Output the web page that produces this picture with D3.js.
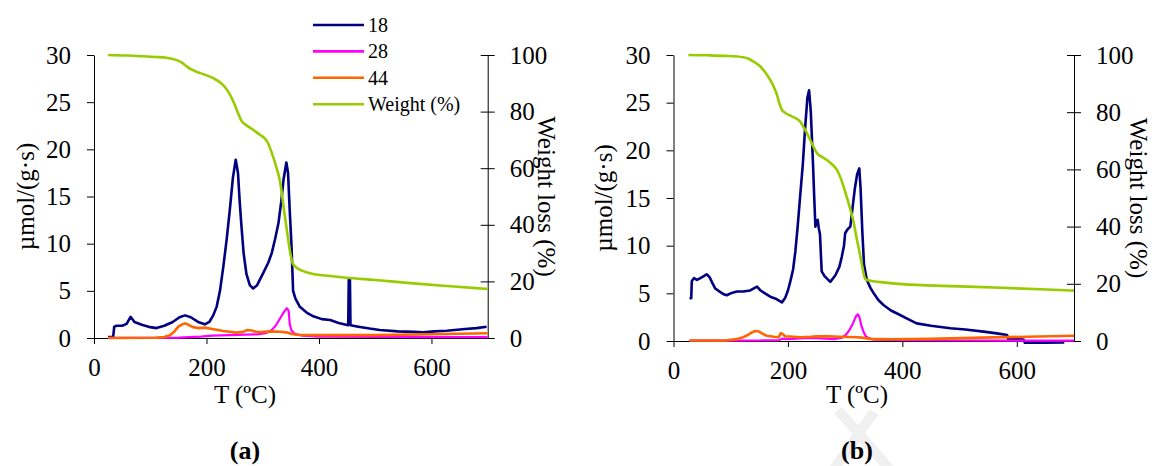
<!DOCTYPE html>
<html>
<head>
<meta charset="utf-8">
<script src="https://cdn.jsdelivr.net/npm/d3@7"></script>
<style>
  html, body { margin: 0; padding: 0; background: #fff; }
  svg { display: block; }
  svg text { font-family: "Liberation Serif", "Times New Roman", Times, "DejaVu Serif", serif; }
</style>
</head>
<body>
<svg id="chart" width="1152" height="466"></svg>
<script>
// ---- Panel (a): evolved species, [T (ºC), µmol/(g·s)] ----
const a18 = [[25,0.1],[34,0.1],[36,1.2],[40,1.3],[50,1.3],[58,1.5],[65,2.25],[72,1.7],[85,1.4],[100,1.15],[111,1.05],[125,1.3],[140,1.7],[152,2.2],[162,2.4],[172,2.2],[185,1.7],[197,1.45],[205,1.7],[212,2.4],[218,3.3],[224,5.0],[230,7.6],[236,10.5],[242,13.9],[247,17.0],[252,18.9],[256,17.5],[259,14.5],[262,12.0],[266,9.0],[271,6.8],[277,5.6],[283,5.25],[290,5.6],[301,6.9],[310,8.0],[316,9.0],[322,10.5],[328,12.2],[333,14.5],[337,16.8],[342,18.6],[345,17.5],[348,13.5],[351,10.0],[354,5.0],[358,4.2],[366,3.3],[378,2.7],[390,2.3],[405,2.0],[420,1.9],[435,1.6],[452,1.35],[453,6.3],[455,6.3],[456,1.35],[470,1.2],[490,1.0],[508,0.85],[540,0.7],[570,0.65],[585,0.6],[605,0.7],[627,0.77],[660,0.95],[680,1.05],[698,1.2]];
const a28 = [[25,0.02],[100,0.02],[150,0.05],[190,0.15],[210,0.25],[240,0.3],[270,0.35],[290,0.38],[305,0.5],[315,0.8],[323,1.3],[331,2.1],[337,2.7],[343,3.15],[346,2.9],[348,1.5],[351,0.8],[357,0.45],[370,0.25],[400,0.15],[500,0.12],[600,0.1],[700,0.1]];
const a44 = [[25,0],[110,0.02],[125,0.1],[135,0.3],[143,0.7],[150,1.2],[157,1.45],[162,1.55],[168,1.4],[176,1.15],[185,1.05],[197,1.1],[210,0.95],[230,0.75],[253,0.57],[265,0.65],[273,0.85],[280,0.8],[289,0.64],[300,0.65],[315,0.7],[331,0.67],[342,0.6],[350,0.45],[360,0.35],[400,0.3],[500,0.3],[600,0.4],[700,0.5]];
// Panel (a): weight, [T (ºC), %]
const aWeight = [[25,100],[60,99.8],[82,99.6],[110,99.3],[129,99.0],[147,98.2],[157,97.2],[165,95.9],[174,94.8],[182,94.1],[195,93.2],[212,91.8],[225,90.2],[233,88.6],[242,85.9],[250,82.5],[256,79.5],[262,76.8],[268,75.6],[283,73.6],[295,71.8],[301,71.0],[309,69.0],[316,65.5],[324,60.5],[331,55],[338,45],[344,36.5],[349,30],[353,26.5],[358,25.2],[370,23.8],[390,22.6],[420,21.9],[449,21.3],[500,20.5],[568,19.3],[640,18.2],[700,17.3]];

// ---- Panel (b) ----
const b18 = [[28,4.45],[31,4.5],[32,6.3],[36,6.6],[41,6.4],[47,6.6],[53,6.8],[58,7.0],[63,6.7],[67,6.2],[73,5.5],[80,5.2],[88,4.9],[93,4.8],[100,5.0],[111,5.2],[122,5.2],[134,5.3],[146,5.7],[152,5.3],[160,5.0],[169,4.65],[180,4.4],[189.5,4.05],[195,4.5],[200,5.3],[204,6.2],[209,7.5],[213,9.4],[217,12.0],[221.5,15.3],[226,18.5],[230,22.3],[234,25.5],[237,26.3],[240,24.0],[243.7,18.8],[246,15.0],[248,12.0],[250,12.5],[252,12.7],[254,11.8],[256,11.2],[259,7.3],[264,6.8],[274,6.2],[283,6.9],[290,7.8],[294,8.8],[298,10.0],[300,11.3],[304,11.7],[309,12.0],[313,14.0],[317,16.0],[321,17.5],[324.7,18.1],[327,16.0],[330,11.5],[333,8.0],[338,6.4],[344,5.6],[350,5.0],[358,4.3],[367,3.78],[380,3.2],[396,2.73],[410,2.3],[425,1.85],[450,1.6],[484,1.33],[510,1.2],[542,0.98],[565,0.8],[583,0.63],[585,0.2],[600,0.18],[612,0.15],[614,-0.18],[650,-0.18],[683,-0.15]];
const b28 = [[28,0.03],[100,0.03],[150,0.05],[185,0.1],[190,0.25],[200,0.2],[230,0.3],[250,0.3],[280,0.2],[295,0.35],[302,0.7],[308,1.2],[314,1.9],[319,2.6],[322,2.8],[325,2.5],[328,1.7],[332,0.98],[336,0.5],[341,0.3],[350,0.15],[400,0.1],[500,0.05],[600,0.03],[700,0.03]];
const b44 = [[28,0.05],[90,0.05],[111,0.2],[122,0.4],[129,0.6],[137,0.9],[143,1.05],[149,1.0],[156,0.75],[163,0.55],[175,0.45],[184,0.4],[187,0.8],[190,0.75],[195,0.5],[210,0.45],[222,0.4],[240,0.45],[251,0.5],[270,0.48],[291,0.45],[320,0.4],[330,0.35],[344,0.22],[380,0.18],[450,0.22],[540,0.35],[620,0.45],[700,0.55]];
const bWeight = [[26,100],[60,99.9],[90,99.7],[122,99.2],[132,98.6],[140,97.7],[150,96.3],[157,94.8],[163,93.2],[169,91.3],[175,89],[181,86.0],[186,82.5],[189.5,80.8],[195,79.8],[206,78.6],[216,77.6],[222,76.6],[227,74.9],[233,72.8],[239,70.3],[245,67.8],[251,65.6],[260,64.3],[268,63.3],[277,61.8],[285.7,59.8],[293,56.5],[300,52.2],[307,47.5],[314.7,41.7],[320,36],[325,31.2],[330,26],[334,22.2],[337,21.4],[350,20.9],[367,20.5],[400,19.9],[484,19.2],[560,18.7],[641,18.1],[700,17.6]];

// ---- Axis ticks and labels ----
const xTicks = [0, 200, 400, 600];
const yLeftTicks = [0, 5, 10, 15, 20, 25, 30];
const yRightTicks = [0, 20, 40, 60, 80, 100];
const seriesNames = ["18", "28", "44", "Weight (%)"];
const seriesColors = ["#000080", "#ff00ff", "#ff6600", "#99cc00"];
const xTitle = "T (ºC)";
const yLeftTitle = "µmol/(g·s)";
const yRightTitle = "Weight loss (%)";
const panelTags = ["(a)", "(b)"];

const SERIF = "'Liberation Serif', 'Times New Roman', Times, 'DejaVu Serif', serif";
const svg = d3.select("#chart").attr("font-family", SERIF);
const FONT = 25;

function drawPanel(p) {
  const x = d3.scaleLinear().domain([0, 700]).range([p.x0, p.x1]);
  const yL = d3.scaleLinear().domain([0, 30]).range([p.yBottom, p.yTop]);
  const yR = d3.scaleLinear().domain([0, 100]).range([p.yBottom, p.yTop]);
  const g = svg.append("g");

  // left axis
  const ga = g.append("g").attr("transform", `translate(${p.x0},0)`)
    .call(d3.axisLeft(yL).tickValues(yLeftTicks).tickSize(7).tickPadding(16).tickSizeOuter(0));
  // right axis, ticks cross the line
  const gr = g.append("g").attr("transform", `translate(${p.x1},0)`)
    .call(d3.axisRight(yR).tickValues(yRightTicks).tickSize(7).tickPadding(15).tickSizeOuter(0));
  gr.selectAll(".tick line").attr("x1", -7);
  // bottom axis
  const gb = g.append("g").attr("transform", `translate(0,${p.yBottom})`)
    .call(d3.axisBottom(x).tickValues(xTicks).tickSize(6).tickPadding(14).tickSizeOuter(0));

  [ga, gr, gb].forEach(ax => {
    ax.attr("font-family", SERIF).attr("font-size", FONT);
    ax.selectAll("text").attr("font-family", SERIF).attr("font-size", FONT).attr("fill", "#000");
    ax.selectAll("line, path").attr("stroke", "#000").attr("stroke-width", 1);
  });

  // series
  const lineL = d3.line().x(d => x(d[0])).y(d => yL(d[1]));
  const lineR = d3.line().x(d => x(d[0])).y(d => yR(d[1])).curve(d3.curveMonotoneX);
  const data = [p.s18, p.s28, p.s44];
  data.forEach((s, i) => {
    g.append("path").datum(s).attr("d", lineL)
      .attr("fill", "none").attr("stroke", seriesColors[i])
      .attr("stroke-width", i === 1 ? 2.2 : 2.6).attr("stroke-linejoin", "round");
  });
  g.append("path").datum(p.weight).attr("d", lineR)
    .attr("fill", "none").attr("stroke", seriesColors[3])
    .attr("stroke-width", 2.6).attr("stroke-linejoin", "round");

  // axis titles
  g.append("text").attr("transform", `translate(${p.titleLx},${(p.yTop + p.yBottom) / 2}) rotate(-90)`)
    .attr("text-anchor", "middle").attr("dy", "0.35em").attr("font-size", FONT).text(yLeftTitle);
  g.append("text").attr("transform", `translate(${p.titleRx},${(p.yTop + p.yBottom) / 2}) rotate(90)`)
    .attr("text-anchor", "middle").attr("dy", "0.35em").attr("font-size", FONT).text(yRightTitle);
  g.append("text").attr("x", p.tagX).attr("y", 403)
    .attr("text-anchor", "middle").attr("font-size", FONT).text(xTitle);
  g.append("text").attr("x", p.tagX).attr("y", 459)
    .attr("text-anchor", "middle").attr("font-size", 26).attr("font-weight", "bold").text(p.tag);
}

// faint background mark behind panel (b) caption
svg.append("g").attr("stroke", "#f0f0f0").attr("stroke-width", 10).attr("stroke-linecap", "butt")
  .selectAll("line").data([[838, 410, 892, 472], [874, 412, 832, 472]]).join("line")
  .attr("x1", d => d[0]).attr("y1", d => d[1]).attr("x2", d => d[2]).attr("y2", d => d[3]);

drawPanel({ x0: 94, x1: 487.7, yTop: 55, yBottom: 338, s18: a18, s28: a28, s44: a44, weight: aWeight,
  titleLx: 25, titleRx: 547, tagX: 245, tag: panelTags[0] });
drawPanel({ x0: 673.5, x1: 1074, yTop: 55, yBottom: 341, s18: b18, s28: b28, s44: b44, weight: bWeight,
  titleLx: 603, titleRx: 1139, tagX: 857, tag: panelTags[1] });

// legend
const leg = svg.append("g").attr("transform", "translate(313,25)");
seriesNames.forEach((name, i) => {
  const row = leg.append("g").attr("transform", `translate(0,${i * 26.4})`);
  row.append("line").attr("x1", 0).attr("x2", 51).attr("y1", 0).attr("y2", 0)
    .attr("stroke", seriesColors[i]).attr("stroke-width", 2.6);
  row.append("text").attr("x", 55).attr("dy", "0.35em").attr("font-size", 20).text(name);
});
</script>
</body>
</html>
